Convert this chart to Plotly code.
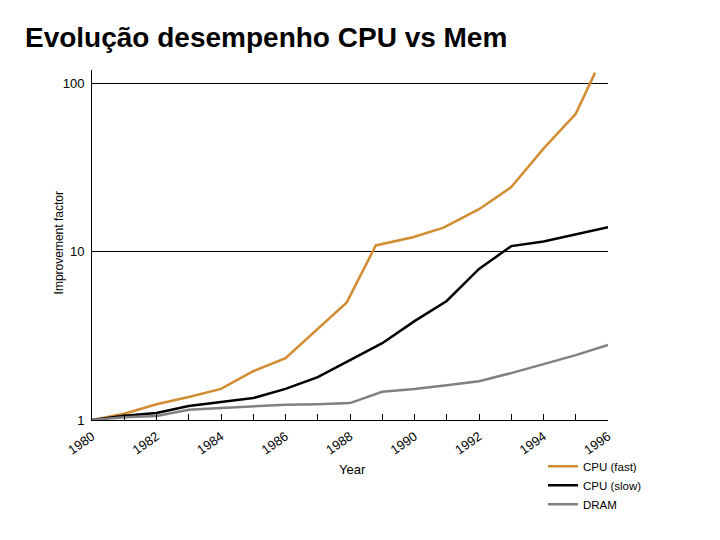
import plotly.graph_objects as go

# CPU (fast) - os pontos não caem exatamente nos anos
cpu_fast_x = [1980, 1981, 1982, 1983, 1984, 1985, 1986, 1987.9, 1988.8, 1989.95,
              1990.9, 1992, 1993, 1994, 1995, 1995.6]
cpu_fast_y = [1.0, 1.09, 1.24, 1.37, 1.53, 1.95, 2.33, 5.0, 10.9, 12.2,
              13.9, 17.9, 24.2, 41, 66, 116]

years = list(range(1980, 1997))
cpu_slow_y = [1.0, 1.06, 1.10, 1.21, 1.28, 1.35, 1.53, 1.80, 2.27, 2.86,
              3.87, 5.1, 7.9, 10.8, 11.5, 12.7, 14.0]
dram_y = [1.0, 1.04, 1.055, 1.15, 1.18, 1.21, 1.23, 1.24, 1.26, 1.47,
          1.53, 1.61, 1.70, 1.90, 2.15, 2.43, 2.79]

tick_text = [str(y) if y % 2 == 0 else "" for y in years]

fig = go.Figure()
fig.add_trace(go.Scatter(x=cpu_fast_x, y=cpu_fast_y, name='CPU (fast)', mode='lines',
                         line=dict(color='#D28C32', width=2.5)))
fig.add_trace(go.Scatter(x=years, y=cpu_slow_y, name='CPU (slow)', mode='lines',
                         line=dict(color='black', width=2.5)))
fig.add_trace(go.Scatter(x=years, y=dram_y, name='DRAM', mode='lines',
                         line=dict(color='#808080', width=2.5)))

fig.update_layout(
    width=720, height=540,
    margin=dict(l=83.5, r=120, t=62, b=128),
    paper_bgcolor='white', plot_bgcolor='white',
    font=dict(family='Liberation Sans, Arial', color='black', size=12),
    title=dict(text='<b>Evolução desempenho CPU vs Mem</b>', x=0.0236, xanchor='left',
               y=0.946, yanchor='middle', font=dict(size=28)),
    showlegend=True,
    legend=dict(x=0.874, y=-0.091, xanchor='left', yanchor='top',
                font=dict(size=11.5), bgcolor='rgba(0,0,0,0)', tracegroupgap=0),
    annotations=[
        dict(text='Year', x=0.504, y=-0.14, xref='paper', yref='paper',
             showarrow=False, xanchor='center', yanchor='middle', font=dict(size=13)),
        dict(text='Improvement factor', x=-0.0649, y=0.506, xref='paper', yref='paper',
             showarrow=False, textangle=-90, xanchor='center', yanchor='middle',
             font=dict(size=12)),
    ],
)
fig.update_xaxes(
    range=[1980, 1996], tickvals=years, ticktext=tick_text, tickangle=-35,
    ticks='inside', ticklen=6, tickcolor='black', showgrid=False,
    showline=True, linecolor='black', linewidth=1, zeroline=False,
    tickfont=dict(size=13), automargin=False, ticklabelstandoff=3,
)
fig.update_yaxes(
    type='log', range=[0, 2.08], tickvals=[1, 10, 100], ticktext=['1', '10', '100'],
    showgrid=True, gridcolor='black', gridwidth=1, showline=True, linecolor='black',
    linewidth=1, zeroline=False, ticks='', tickfont=dict(size=13), automargin=False,
    ticklabelstandoff=4,
)

fig.write_html("out.html")
